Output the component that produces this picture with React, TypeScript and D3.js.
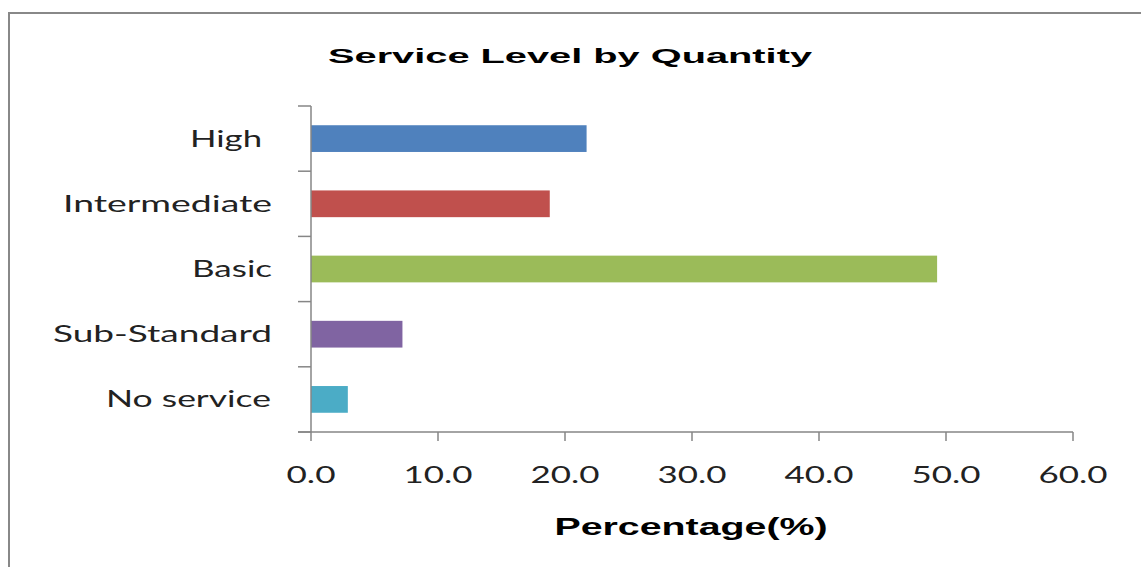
import React from "react";
import * as d3 from "d3";

const categories = ["High", "Intermediate", "Basic", "Sub-Standard", "No service"];
const labelTexts = ["High ", "Intermediate", "Basic", "Sub-Standard", "No service"];
const values = [21.7, 18.8, 49.3, 7.2, 2.9];
const colors = ["#4F81BD", "#C0504D", "#9BBB59", "#8064A2", "#4BACC6"];
const xTicks = [0, 10, 20, 30, 40, 50, 60];
const labelWidths = [72, 209, 80, 219, 165];
const labelEnds = [262, 272, 272, 272, 271];
const title = "Service Level by Quantity";
const xTitle = "Percentage(%)";

export default function App() {
  const W = 1141, H = 567;
  const x = d3.scaleLinear().domain([0, 60]).range([311, 1073]);
  const y = d3.scaleBand<string>().domain(categories).range([106, 432]).paddingInner(0.59).paddingOuter(0.295);
  const yt = d3.scaleLinear().domain([0, categories.length]).range([106, 432]);
  const fmt = d3.format(".1f");
  const axisColor = "#868686";
  const labelFont = "Lato, 'Open Sans', sans-serif";
  return (
    <svg width={W} height={H} style={{ position: "absolute", left: 0, top: 0, background: "#fff" }}>
      <rect x={9} y={13} width={W + 20} height={H + 20} fill="none" stroke="#888" strokeWidth={2} />
      <text x={570} y={63} textAnchor="middle" fontFamily="Arial, 'Liberation Sans', sans-serif" fontWeight="bold" fontSize={21} textLength={484} lengthAdjust="spacingAndGlyphs" fill="#000">{title}</text>
      {categories.map((c, i) => (
        <rect key={c} x={x(0)} y={y(c)} width={x(values[i]) - x(0)} height={y.bandwidth()} fill={colors[i]} />
      ))}
      <line x1={x(0)} x2={x(0)} y1={yt(0)} y2={yt(categories.length)} stroke={axisColor} strokeWidth={1.5} />
      {d3.range(categories.length + 1).map((k) => (
        <line key={"yt" + k} x1={298} x2={x(0)} y1={yt(k)} y2={yt(k)} stroke={axisColor} strokeWidth={1.5} />
      ))}
      <line x1={298} x2={x(60)} y1={yt(categories.length)} y2={yt(categories.length)} stroke={axisColor} strokeWidth={1.5} />
      {xTicks.map((t) => (
        <g key={"xt" + t}>
          <line x1={x(t)} x2={x(t)} y1={432} y2={441} stroke={axisColor} strokeWidth={1.5} />
          <text x={x(t)} y={483} textAnchor="middle" fontFamily={labelFont} fontSize={23} fill="#222" textLength={t === 0 ? 49 : 69} lengthAdjust="spacingAndGlyphs">{fmt(t)}</text>
        </g>
      ))}
      {categories.map((c, i) => (
        <text key={"l" + c} x={labelEnds[i]} y={(y(c) as number) + y.bandwidth() / 2 + 8} textAnchor="end" fontFamily={labelFont} fontSize={23} fill="#222" textLength={labelWidths[i]} lengthAdjust="spacingAndGlyphs">{labelTexts[i].trim()}</text>
      ))}
      <text x={691} y={535} textAnchor="middle" fontFamily="Arial, 'Liberation Sans', sans-serif" fontWeight="bold" fontSize={23} textLength={273} lengthAdjust="spacingAndGlyphs" fill="#000">{xTitle}</text>
    </svg>
  );
}
